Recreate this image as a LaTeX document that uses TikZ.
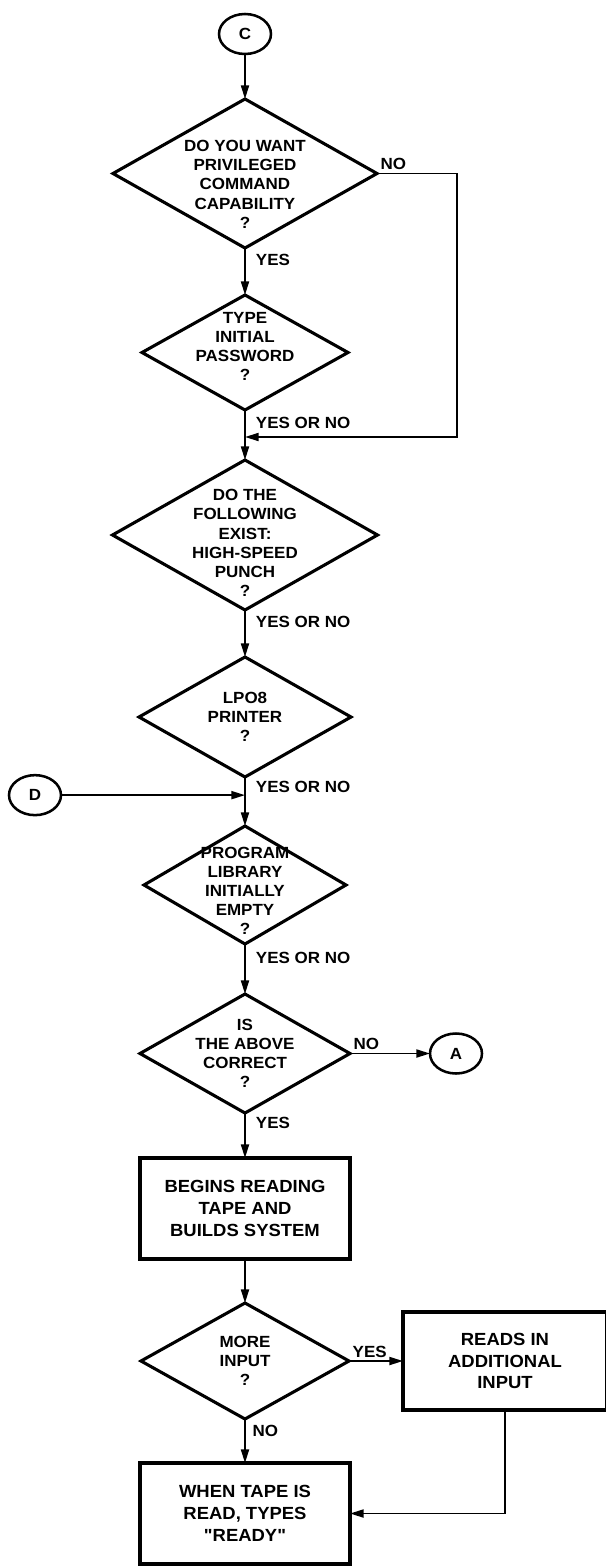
\documentclass[tikz,border=0pt]{standalone}
\usepackage{fontspec}
\setmainfont{Liberation Sans}[FakeStretch=1.05, Ligatures=TeXOff]
\usepackage{tikz}
\usetikzlibrary{arrows.meta, positioning, shapes.geometric, calc}

\begin{document}
\begin{tikzpicture}[
    node distance=1.15cm and 1.35cm,
    connector/.style={ellipse, minimum width=1.3cm, minimum height=1.0cm, inner sep=0pt, outer sep=0pt, draw=black, line width=1.8pt, font=\bfseries\fontsize{11.5}{13}\selectfont},
    decision/.style={diamond, inner sep=0pt, outer sep=0pt, draw=black, line width=2.2pt},
    qtext/.style={align=center, font=\bfseries\fontsize{11.5}{13.6}\selectfont},
    process/.style={rectangle, minimum width=5.25cm, minimum height=2.525cm, inner sep=0pt, outer sep=0pt, align=center, draw=black, line width=2.2pt, font=\bfseries\fontsize{12.5}{15.5}\selectfont},
    line/.style={draw=black, line width=1.3pt, -{Triangle[length=3.4mm, width=2mm]}},
    answer/.style={font=\bfseries\fontsize{11.5}{13.6}\selectfont, inner sep=2pt}
]
    \useasboundingbox (0,0) rectangle (15.125,-39.2);

    \node[connector] (c) at (6.125,-0.85) {C};
    \node[decision, minimum width=6.6cm, minimum height=3.725cm, below=1.125cm of c,
          label={[qtext, yshift=-0.27cm]center:{DO YOU WANT\\PRIVILEGED\\COMMAND\\CAPABILITY\\?}}] (privileged) {};
    \node[decision, minimum width=5.15cm, minimum height=2.875cm, below=1.175cm of privileged,
          label={[qtext, yshift=0.15cm]center:{TYPE\\INITIAL\\PASSWORD\\?}}] (password) {};
    \node[decision, minimum width=6.625cm, minimum height=3.75cm, below=1.25cm of password,
          label={[qtext, yshift=-0.2cm]center:{DO THE\\FOLLOWING\\EXIST:\\HIGH-SPEED\\PUNCH\\?}}] (punch) {};
    \node[decision, minimum width=5.3cm, minimum height=3.0cm, below=1.175cm of punch,
          label={[qtext]center:{LPO8\\PRINTER\\?}}] (printer) {};
    \node[decision, minimum width=5.05cm, minimum height=2.95cm, below=1.225cm of printer,
          label={[qtext, yshift=-0.15cm]center:{PROGRAM\\LIBRARY\\INITIALLY\\EMPTY\\?}}] (library) {};
    \node[decision, minimum width=5.25cm, minimum height=2.975cm, below=1.25cm of library,
          label={[qtext]center:{IS\\THE ABOVE\\CORRECT\\?}}] (correct) {};
    \node[connector, right=2.0cm of correct] (a) {A};

    % Build and extra input
    \node[process, below=1.125cm of correct] (build) {BEGINS READING\\TAPE AND\\BUILDS SYSTEM};
    \node[decision, minimum width=5.2cm, minimum height=2.9cm, below=1.1cm of build,
          label={[qtext]center:{MORE\\INPUT\\?}}] (more) {};
    \node[process, minimum width=5.1cm, minimum height=2.45cm, right=1.35cm of more] (extra) {READS IN\\ADDITIONAL\\INPUT};
    \node[process, below=1.1cm of more] (ready) {WHEN TAPE IS\\READ, TYPES\\"READY"};

    % Join points on the main line
    \coordinate (join) at ($(password.south)!0.54!(punch.north)$);
    \coordinate (djoin) at ($(printer.south)!0.37!(library.north)$);
    \node[connector] (d) at ([xshift=-5.25cm]djoin) {D};

    % Connectors
    \draw[line] (c) -- (privileged);
    \draw[line] (privileged) -- node[answer, near start, right=0.18cm] {YES} (password);
    \draw[line] (privileged.east) -- node[answer, pos=0, above right] {NO} ++(2.0,0) |- (join);
    \draw[line] (password) -- node[answer, near start, right=0.18cm] {YES OR NO} (punch);
    \draw[line] (punch) -- node[answer, near start, right=0.18cm] {YES OR NO} (printer);
    \draw[line] (printer) -- node[answer, pos=0.2, right=0.18cm] {YES OR NO} (library);
    \draw[line] (d) -- (djoin);
    \draw[line] (library) -- node[answer, pos=0.28, right=0.18cm] {YES OR NO} (correct);
    \draw[line] (correct) -- node[answer, pos=0, above right] {NO} (a);
    \draw[line] (correct) -- node[answer, pos=0.22, right=0.18cm] {YES} (build);
    \draw[line] (build) -- (more);
    \draw[line] (more) -- node[answer, pos=0, above right] {YES} (extra);
    \draw[line] (more) -- node[answer, pos=0.27, right=0.1cm] {NO} (ready);
    \draw[line] (extra.south) |- (ready.east);
\end{tikzpicture}
\end{document}
